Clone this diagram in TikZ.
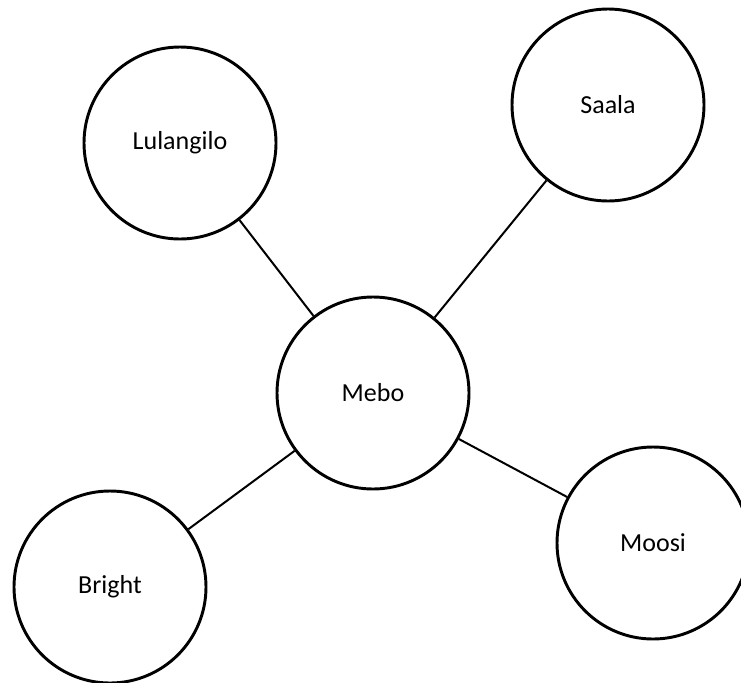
\documentclass[tikz,border=0pt]{standalone}
\usepackage{fontspec}
\setmainfont{Carlito}
\begin{document}
\begin{tikzpicture}[x=0.75pt,y=-0.75pt,
  person/.style={circle,draw=black,line width=2.2pt,minimum size=144pt,inner sep=0pt,fill=white,
    font=\fontsize{19.5pt}{23pt}\selectfont},
  link/.style={draw=black,line width=1.5pt}]
\useasboundingbox (0,0) rectangle (741,682);
\node[person] (mebo) at (373,393) {Mebo};
\node[person] (lul) at (180,143) {Lulangilo};
\node[person] (saala) at (608,105) {Saala};
\node[person] (bright) at (110,587) {Bright};
\node[person] (moosi) at (653,543) {Moosi};
\draw[link] (lul) -- (mebo);
\draw[link] (saala) -- (mebo);
\draw[link] (bright) -- (mebo);
\draw[link] (moosi) -- (mebo);
\end{tikzpicture}
\end{document}
